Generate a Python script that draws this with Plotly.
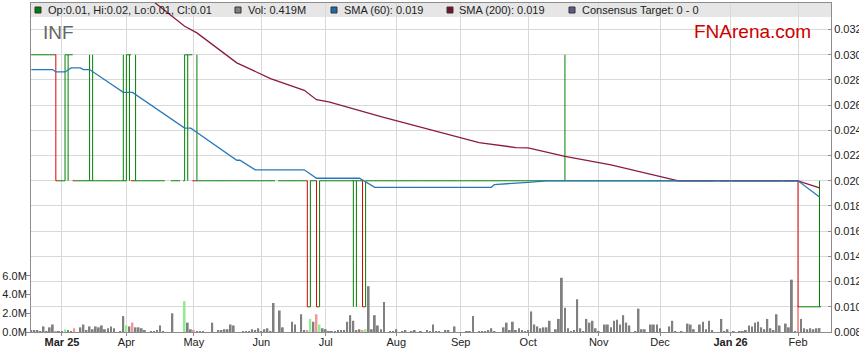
import numpy as np
import pandas as pd
import plotly.graph_objects as go

# ---------------- data ----------------
START = "2025-02-17"
END = "2026-02-11"
HOLIDAYS = ["2025-04-18", "2025-04-21", "2025-04-25", "2025-06-09",
            "2025-12-25", "2025-12-26", "2026-01-01", "2026-01-26"]

# price runs: each run of days shares the same open/high/low/close
RUN_START = ["2025-02-17", "2025-02-27", "2025-02-28", "2025-03-04", "2025-03-05", "2025-03-06",
             "2025-03-07", "2025-03-14", "2025-03-18", "2025-03-31", "2025-04-01", "2025-04-02",
             "2025-04-03", "2025-04-04", "2025-04-07", "2025-04-28", "2025-04-29", "2025-04-30",
             "2025-05-01", "2025-05-02", "2025-05-05", "2025-06-23", "2025-06-24", "2025-06-25",
             "2025-06-26", "2025-06-27", "2025-06-30", "2025-07-14", "2025-07-16", "2025-07-17",
             "2025-07-18", "2025-07-21", "2025-10-17", "2025-10-20", "2026-02-02", "2026-02-03",
             "2026-02-11"]
RUN_END = ["2025-02-26", "2025-02-27", "2025-03-03", "2025-03-04", "2025-03-05", "2025-03-06",
           "2025-03-13", "2025-03-17", "2025-03-28", "2025-03-31", "2025-04-01", "2025-04-02",
           "2025-04-03", "2025-04-04", "2025-04-25", "2025-04-28", "2025-04-29", "2025-04-30",
           "2025-05-01", "2025-05-02", "2025-06-20", "2025-06-23", "2025-06-24", "2025-06-25",
           "2025-06-26", "2025-06-27", "2025-07-11", "2025-07-15", "2025-07-16", "2025-07-17",
           "2025-07-18", "2025-10-16", "2025-10-17", "2026-01-30", "2026-02-02", "2026-02-10",
           "2026-02-11"]
RUN_OPEN = [0.03, 0.03, 0.02, 0.02, 0.03, 0.03, 0.02, 0.02, 0.02, 0.02, 0.02, 0.03,
            0.02, 0.02, 0.02, 0.02, 0.03, 0.03, 0.02, 0.02, 0.02, 0.02, 0.01, 0.02,
            0.02, 0.01, 0.02, 0.02, 0.02, 0.02, 0.01, 0.02, 0.02, 0.02, 0.02, 0.01, 0.01]
RUN_HIGH = [0.03, 0.03, 0.02, 0.03, 0.03, 0.03, 0.02, 0.03, 0.02, 0.03, 0.03, 0.03,
            0.02, 0.03, 0.02, 0.03, 0.03, 0.03, 0.02, 0.03, 0.02, 0.02, 0.02, 0.02,
            0.02, 0.02, 0.02, 0.02, 0.02, 0.02, 0.02, 0.02, 0.03, 0.02, 0.02, 0.01, 0.02]
RUN_LOW = [0.03, 0.02, 0.02, 0.02, 0.02, 0.03, 0.02, 0.02, 0.02, 0.02, 0.02, 0.02,
           0.02, 0.02, 0.02, 0.02, 0.02, 0.03, 0.02, 0.02, 0.02, 0.01, 0.01, 0.02,
           0.01, 0.01, 0.02, 0.01, 0.02, 0.01, 0.01, 0.02, 0.02, 0.02, 0.01, 0.01, 0.01]
RUN_CLOSE = [0.03, 0.02, 0.02, 0.03, 0.03, 0.03, 0.02, 0.02, 0.02, 0.02, 0.03, 0.03,
             0.02, 0.02, 0.02, 0.03, 0.03, 0.03, 0.02, 0.02, 0.02, 0.01, 0.02, 0.02,
             0.01, 0.02, 0.02, 0.02, 0.02, 0.01, 0.02, 0.02, 0.02, 0.02, 0.01, 0.01, 0.01]

# daily volume in millions, one value per trading day (week by week)
VOLUME_M = [
    0.2, 0.2, 0.2, 0.1, 0.6,
    0.05, 0.5, 0.8, 0.05, 0.05,
    0.1, 0.3, 0.2, 0.1, 0.4,
    0.0, 0.5, 0.8, 0.2, 0.6,
    0.3, 0.6, 0.5, 0.7, 0.3,
    0.4, 0.6, 0.4, 0.0, 0.1,
    1.7, 0.7, 0.6, 1.0, 0.5,
    0.5, 0.4, 0.2, 0.0, 0.1,
    0.1, 0.2, 0.7, 0.1,
    2.0, 0.0, 0.0,
    3.3, 1.0, 0.3, 0.2, 0.1,
    0.1, 0.1, 0.0, 0.0, 1.0,
    0.0, 0.2, 0.2, 0.3, 0.3,
    0.8, 0.7, 0.0, 0.0, 0.1,
    0.1, 0.1, 0.3, 0.2, 0.4,
    0.1, 0.3, 0.4, 0.1, 3.1,
    2.3, 0.5, 0.0, 0.0,
    1.1, 0.8, 0.0, 1.9, 0.2,
    0.2, 1.4, 1.1, 1.9, 0.8,
    0.4, 0.3, 0.1, 0.1, 0.1,
    0.2, 0.2, 0.2, 1.1, 1.8,
    1.2, 0.2, 0.3, 0.2, 0.3,
    4.9, 0.3, 1.8, 0.7, 0.3,
    3.2, 0.0, 0.1, 0.1, 0.3,
    0.0, 0.1, 0.2, 0.0, 0.1,
    0.2, 0.0, 0.1, 0.0, 0.2,
    0.1, 0.8, 0.1, 0.1, 0.0,
    0.2, 0.2, 0.0, 0.6, 0.0,
    0.0, 0.0, 0.1, 0.1, 1.7,
    0.0, 0.1, 0.1, 0.1, 0.2,
    0.4, 0.1, 0.0, 0.0, 0.5,
    1.0, 0.2, 1.1, 0.2, 0.4,
    0.2, 0.1, 0.2, 2.2, 0.8,
    0.6, 0.4, 0.5, 0.5, 1.2,
    0.0, 0.3, 1.4, 5.8, 2.6,
    0.4, 0.1, 0.2, 3.5, 0.4,
    0.1, 1.4, 1.0, 1.2, 0.4,
    0.1, 0.0, 0.8, 0.8, 0.5,
    1.2, 1.3, 0.8, 1.8, 1.0,
    0.7, 0.0, 0.1, 2.5, 0.3,
    0.3, 0.0, 0.8, 0.8, 0.8,
    0.4, 0.0, 0.0, 0.6, 1.2,
    0.1, 0.0, 0.1, 0.0, 0.9,
    0.8, 0.3, 0.0, 0.8, 1.1,
    0.3, 1.2, 0.2,
    1.4, 0.1, 0.3, 0.1,
    0.0, 0.1, 0.1, 0.2, 0.7,
    0.6, 1.0, 1.1, 0.5, 0.3,
    1.4, 0.4, 0.2, 1.9, 0.7,
    0.9, 0.5, 5.6, 0.1,
    2.8, 1.4, 0.4, 0.3, 0.4,
    0.3, 0.4, 0.419,
]

SMA60_DATES = ["2025-02-17", "2025-02-26", "2025-02-27", "2025-03-04", "2025-03-06", "2025-03-11",
               "2025-03-12", "2025-03-14", "2025-03-31", "2025-04-03", "2025-04-28", "2025-04-30",
               "2025-05-02", "2025-05-21", "2025-05-22", "2025-05-29", "2025-06-20", "2025-06-26",
               "2025-07-16", "2025-07-23", "2025-09-15", "2025-09-16", "2025-10-01", "2025-10-09",
               "2026-02-02", "2026-02-11"]
SMA60_VALUES = [0.02883, 0.02883, 0.02864, 0.02864, 0.02896, 0.02896,
                0.02883, 0.02883, 0.02702, 0.02702, 0.02418, 0.02418,
                0.02383, 0.02163, 0.02163, 0.02087, 0.02087, 0.02020,
                0.02020, 0.01948, 0.01948, 0.01970, 0.01988, 0.02000,
                0.02000, 0.01872]

SMA200_DATES = ["2025-02-17", "2025-04-11", "2025-04-28", "2025-05-02", "2025-05-21", "2025-06-05",
                "2025-06-20", "2025-06-26", "2025-07-02", "2025-07-25", "2025-08-18", "2025-09-09",
                "2025-09-25", "2025-10-01", "2025-10-17", "2025-11-07", "2025-12-09", "2026-02-02",
                "2026-02-11"]
SMA200_VALUES = [0.04192, 0.03438, 0.03226, 0.03174, 0.02936, 0.02811,
                 0.02718, 0.02644, 0.02626, 0.02510, 0.02406, 0.02303,
                 0.02264, 0.02261, 0.02194, 0.02126, 0.02000, 0.02000,
                 0.01944]

MONTH_TICK_DATES = ["2025-03-01", "2025-04-01", "2025-05-01", "2025-06-01", "2025-07-01", "2025-08-01",
                    "2025-09-01", "2025-10-01", "2025-11-01", "2025-12-01", "2026-01-01", "2026-02-01"]
MONTH_TICK_LABELS = ["<b>Mar 25</b>", "Apr", "May", "Jun", "Jul", "Aug", "Sep", "Oct", "Nov", "Dec",
                     "<b>Jan 26</b>", "Feb"]
PRICE_TICKS = [0.008, 0.010, 0.012, 0.014, 0.016, 0.018, 0.020, 0.022, 0.024, 0.026, 0.028, 0.030, 0.032]
VOLUME_TICKS = [0, 2, 4, 6]
VOLUME_TICK_LABELS = ["0.0M", "2.0M", "4.0M", "6.0M"]

# ---------------- build ----------------
hol = set(HOLIDAYS)
days = [d.strftime("%Y-%m-%d") for d in pd.bdate_range(START, END) if d.strftime("%Y-%m-%d") not in hol]
assert len(days) == len(VOLUME_M), (len(days), len(VOLUME_M))

def slot(dates):
    # weekday slot index counted from the first chart day (holidays keep their slot)
    return np.busday_count(np.datetime64(START), np.array(dates, dtype="datetime64[D]")).astype(float)

day_x = slot(days)
o, h, l, c = [], [], [], []
for d in days:
    for k in range(len(RUN_START)):
        if RUN_START[k] <= d <= RUN_END[k]:
            o.append(RUN_OPEN[k]); h.append(RUN_HIGH[k]); l.append(RUN_LOW[k]); c.append(RUN_CLOSE[k])
            break
assert len(c) == len(days)

GREEN, RED = "#008000", "#dd0000"
up = []
vol_colors = []
for i in range(len(days)):
    prev = c[i - 1] if i > 0 else c[i]
    up.append(c[i] >= prev)
    if c[i] > prev:
        vol_colors.append("rgb(144,238,144)")
    elif c[i] < prev:
        vol_colors.append("rgb(245,150,150)")
    else:
        vol_colors.append("rgb(128,128,128)")

def pick(arr, flag):
    return [v if (u == flag) else None for v, u in zip(arr, up)]

month_ticks = slot([str(np.busday_offset(np.datetime64(m), 0, roll="forward")) for m in MONTH_TICK_DATES])

fig = go.Figure()
fig.add_trace(go.Bar(x=day_x, y=VOLUME_M, marker_color=vol_colors, marker_line_width=0,
                     width=0.6, yaxis="y", hoverinfo="skip"))
fig.add_trace(go.Scatter(x=slot(SMA200_DATES), y=SMA200_VALUES, yaxis="y2", mode="lines",
                         line=dict(color="#8b1c40", width=1.3)))
fig.add_trace(go.Scatter(x=slot(SMA60_DATES), y=SMA60_VALUES, yaxis="y2", mode="lines",
                         line=dict(color="#2878b8", width=1.3)))
for flag, col in [(True, GREEN), (False, RED)]:
    fig.add_trace(go.Ohlc(x=day_x, open=pick(o, flag), high=pick(h, flag), low=pick(l, flag),
                          close=pick(c, flag), yaxis="y2", tickwidth=0.5,
                          increasing=dict(line=dict(color=col, width=1)),
                          decreasing=dict(line=dict(color=col, width=1)),
                          hoverinfo="skip"))

AX = "#8c8c8c"
GRID = "#d9d9d9"
fig.update_layout(
    width=859, height=363, margin=dict(l=31, r=28, t=3, b=31, autoexpand=False),
    autosize=False,
    paper_bgcolor="white", plot_bgcolor="white", showlegend=False,
    font=dict(family="Liberation Sans, Arial, sans-serif", size=11, color="#222"),
    xaxis=dict(range=[-0.1, 260.75], tickmode="array", tickvals=month_ticks, ticktext=MONTH_TICK_LABELS,
               showgrid=True, gridcolor=GRID, gridwidth=1, ticks="outside", ticklen=3, tickcolor=AX,
               showline=True, linecolor=AX, mirror=True, zeroline=False, automargin=False,
               ticklabelstandoff=-3,
               rangeslider=dict(visible=False), fixedrange=True),
    yaxis=dict(range=[0, 35.19], tickmode="array", tickvals=VOLUME_TICKS, ticktext=VOLUME_TICK_LABELS,
               showgrid=False, zeroline=False, ticks="outside", ticklen=4, tickcolor=AX, automargin=False,
               ticklabelstandoff=-3,
               showline=True, linecolor=AX, side="left", fixedrange=True),
    yaxis2=dict(range=[0.008, 0.03411], overlaying="y", side="right", tickmode="array",
                tickvals=PRICE_TICKS, tickformat=".3f", showgrid=True, gridcolor=GRID,
                zeroline=False, ticks="inside", ticklen=3, tickcolor=AX, automargin=False,
                showline=True, linecolor=AX, fixedrange=True),
)

def px_x(p):
    return (p - 31) / 800.0

def px_y(p):
    return (332 - p) / 329.0

shapes = [dict(type="rect", xref="paper", yref="paper", x0=0, x1=1, y0=px_y(17), y1=1,
               fillcolor="rgb(230,230,230)", line=dict(width=0), layer="below")]
legend_items = [
    (35, "#008000", "Op:0.01, Hi:0.02, Lo:0.01, Cl:0.01"),
    (235, "#808080", "Vol: 0.419M"),
    (331, "#1f6aa8", "SMA (60): 0.019"),
    (447, "#7a1030", "SMA (200): 0.019"),
    (569, "#5a5a8c", "Consensus Target: 0 - 0"),
]
annotations = []
for sx, col, txt in legend_items:
    shapes.append(dict(type="rect", xref="paper", yref="paper", x0=px_x(sx), x1=px_x(sx + 6),
                       y0=px_y(13), y1=px_y(7), fillcolor=col, line=dict(color="#333", width=1)))
    annotations.append(dict(xref="paper", yref="paper", x=px_x(sx + 10.5), y=px_y(10), text=txt,
                            showarrow=False, xanchor="left", yanchor="middle",
                            font=dict(size=11, color="#222")))
annotations.append(dict(xref="paper", yref="paper", x=px_x(41), y=px_y(33), text="INF", showarrow=False,
                        xanchor="left", yanchor="middle", font=dict(size=19, color="#666")))
annotations.append(dict(xref="paper", yref="paper", x=px_x(691.5), y=px_y(31.5), text="FNArena.com",
                        showarrow=False, xanchor="left", yanchor="middle",
                        font=dict(size=19, color="rgb(204,0,0)")))
fig.update_layout(shapes=shapes, annotations=annotations)

fig.write_html("out.html", config={"responsive": False, "displayModeBar": False},
               post_script="document.body.style.margin='0';document.body.style.overflow='hidden';")
